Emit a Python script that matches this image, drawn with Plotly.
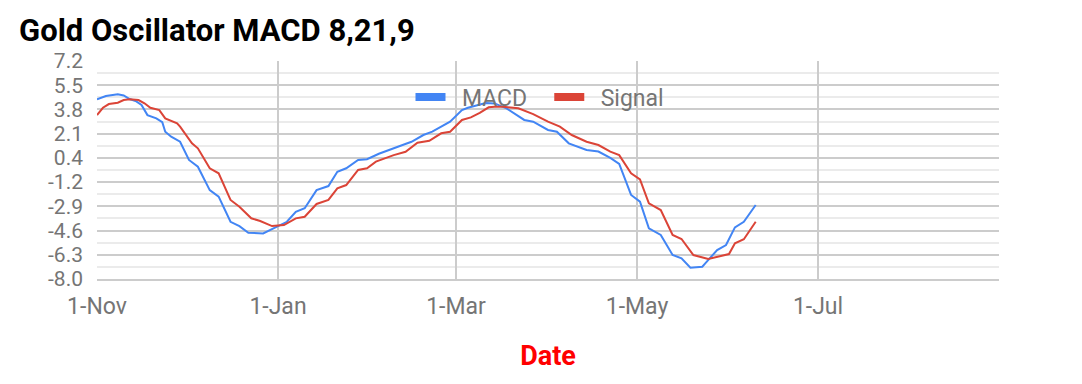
import plotly.graph_objects as go
import numpy as np

# ---- data ----
macd_dates = ["2019-11-01","2019-11-04","2019-11-08","2019-11-10","2019-11-12","2019-11-14","2019-11-16",
              "2019-11-18","2019-11-21","2019-11-23","2019-11-24","2019-11-26","2019-11-29","2019-12-02",
              "2019-12-05","2019-12-09","2019-12-12","2019-12-16","2019-12-19","2019-12-22","2019-12-27",
              "2019-12-29","2020-01-02","2020-01-04","2020-01-07","2020-01-10","2020-01-14","2020-01-18",
              "2020-01-21","2020-01-24","2020-01-28","2020-01-31","2020-02-04","2020-02-07","2020-02-12",
              "2020-02-15","2020-02-19","2020-02-22","2020-02-26","2020-02-28","2020-03-03","2020-03-05",
              "2020-03-11","2020-03-14","2020-03-18","2020-03-24","2020-03-27","2020-04-01","2020-04-04",
              "2020-04-08","2020-04-14","2020-04-18","2020-04-22","2020-04-25","2020-04-29","2020-05-02",
              "2020-05-05","2020-05-09","2020-05-13","2020-05-16","2020-05-19","2020-05-23","2020-05-24",
              "2020-05-28","2020-05-31","2020-06-03","2020-06-06","2020-06-10"]
macd_values = [4.52,4.76,4.88,4.80,4.55,4.41,4.13,
               3.43,3.20,2.93,2.27,1.92,1.57,0.30,
               -0.17,-1.80,-2.26,-4.01,-4.31,-4.77,-4.82,
               -4.62,-4.24,-4.01,-3.31,-3.07,-1.80,-1.52,
               -0.52,-0.28,0.30,0.35,0.73,0.94,1.34,
               1.57,2.04,2.27,2.74,2.97,3.78,3.94,
               4.27,4.24,3.90,3.09,2.97,2.39,2.27,
               1.46,0.99,0.89,0.44,0.02,-2.14,-2.61,
               -4.47,-4.93,-6.33,-6.56,-7.21,-7.14,-6.91,
               -5.98,-5.63,-4.40,-4.01,-2.84]

signal_dates = ["2019-11-01","2019-11-03","2019-11-05","2019-11-08","2019-11-10","2019-11-12","2019-11-15",
                "2019-11-17","2019-11-19","2019-11-22","2019-11-24","2019-11-28","2019-11-29","2019-12-03",
                "2019-12-05","2019-12-09","2019-12-12","2019-12-16","2019-12-19","2019-12-23","2019-12-26",
                "2019-12-30","2020-01-03","2020-01-07","2020-01-10","2020-01-14","2020-01-18","2020-01-21",
                "2020-01-24","2020-01-28","2020-01-31","2020-02-03","2020-02-09","2020-02-13","2020-02-17",
                "2020-02-21","2020-02-25","2020-02-28","2020-03-03","2020-03-06","2020-03-09","2020-03-12",
                "2020-03-14","2020-03-17","2020-03-22","2020-03-27","2020-04-01","2020-04-05","2020-04-09",
                "2020-04-14","2020-04-18","2020-04-22","2020-04-25","2020-04-29","2020-05-02","2020-05-05",
                "2020-05-09","2020-05-13","2020-05-16","2020-05-20","2020-05-25","2020-05-28","2020-06-01",
                "2020-06-03","2020-06-06","2020-06-10"]
signal_values = [3.43,3.94,4.20,4.29,4.48,4.53,4.48,
                 4.25,3.94,3.78,3.20,2.86,2.62,1.46,
                 1.11,-0.28,-0.63,-2.49,-2.96,-3.77,-3.96,
                 -4.31,-4.24,-3.77,-3.66,-2.77,-2.49,-1.68,
                 -1.45,-0.40,-0.28,0.18,0.64,0.87,1.50,
                 1.64,2.16,2.27,3.09,3.27,3.59,3.97,
                 4.01,4.01,3.90,3.50,2.97,2.62,2.04,
                 1.57,1.34,0.88,0.64,-0.63,-1.05,-2.72,
                 -3.19,-4.93,-5.21,-6.33,-6.61,-6.45,-6.26,
                 -5.51,-5.23,-4.01]

y_tick_labels = ["-8.0","-6.3","-4.6","-2.9","-1.2","0.4","2.1","3.8","5.5","7.2"]
x_tick_dates = ["2019-11-01","2020-01-01","2020-03-01","2020-05-01","2020-07-01"]
x_tick_labels = ["1-Nov","1-Jan","1-Mar","1-May","1-Jul"]
series_names = ["MACD", "Signal"]

Y_MIN, Y_MAX = -8.0, 7.2
BLUE = "#4285F4"
RED = "#DB4437"
FONT = "Roboto"
GRAY = "#757575"
NB = "\u00a0"

major = np.linspace(Y_MIN, Y_MAX, len(y_tick_labels))
minor = (major[:-1] + major[1:]) / 2

fig = go.Figure()
fig.add_trace(go.Scatter(x=macd_dates, y=macd_values, mode="lines", name=series_names[0],
                         line=dict(color=BLUE, width=2), showlegend=False))
fig.add_trace(go.Scatter(x=signal_dates, y=signal_values, mode="lines", name=series_names[1],
                         line=dict(color=RED, width=2), showlegend=False))
# legend swatches
fig.add_trace(go.Scatter(x=[None], y=[None], mode="lines", name=NB * 2 + series_names[0] + NB * 3,
                         line=dict(color=BLUE, width=8)))
fig.add_trace(go.Scatter(x=[None], y=[None], mode="lines", name=NB * 2 + series_names[1],
                         line=dict(color=RED, width=8)))

fig.update_layout(
    width=1082, height=384,
    margin=dict(l=97, r=83, t=61, b=105),
    paper_bgcolor="white", plot_bgcolor="white",
    font=dict(family=FONT, size=22, color=GRAY),
    title=dict(text="<b>Gold Oscillator MACD 8,21,9</b>", x=19/1082, xref="container", xanchor="left",
               y=1 - 30/384, yref="container", yanchor="middle",
               font=dict(family=FONT, size=31, color="#000000")),
    legend=dict(orientation="h", x=(540 - 97) / 902, xanchor="center", y=0.835, yanchor="middle",
                bgcolor="rgba(0,0,0,0)", font=dict(size=23, color=GRAY),
                itemwidth=30, traceorder="normal"),
    xaxis=dict(type="date", range=["2019-11-01", "2020-08-31"],
               tickvals=x_tick_dates, ticktext=x_tick_labels,
               showgrid=True, gridcolor="#cccccc", gridwidth=1.5,
               showline=True, linecolor="#cccccc", linewidth=2,
               zeroline=False, ticks="", ticklabelstandoff=5,
               tickfont=dict(size=23, color=GRAY),
               title=dict(text="<b>Date</b>", font=dict(family=FONT, size=27, color="#ff0000"),
                          standoff=28)),
    yaxis=dict(range=[Y_MIN, Y_MAX], tickvals=major, ticktext=y_tick_labels,
               showgrid=True, gridcolor="#cccccc", gridwidth=1.5,
               zeroline=False, ticks="", showline=False, ticklabelstandoff=13,
               tickfont=dict(size=21, color=GRAY),
               minor=dict(tickvals=minor, showgrid=True, gridcolor="#ebebeb", gridwidth=1.5)),
)
fig.write_html("out.html")
